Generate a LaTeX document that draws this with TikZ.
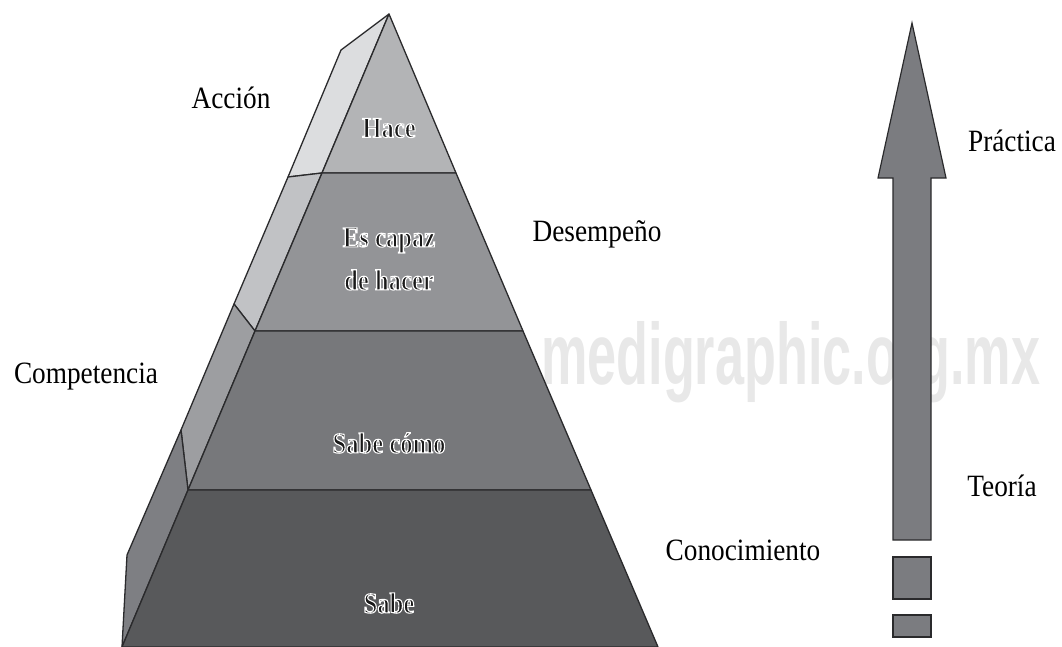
\documentclass[tikz,border=0pt]{standalone}
\usepackage{fontspec}
\setmainfont{Liberation Serif}
\newfontfamily\lblfont[FakeStretch=0.88]{Liberation Serif}
\newfontfamily\inbfont[FakeStretch=0.85]{Liberation Serif Bold}
\newfontfamily\wmfont[FakeStretch=0.6]{Liberation Sans Bold}
\definecolor{lineC}{HTML}{2A2A2C}
\definecolor{fHace}{HTML}{B3B4B6}
\definecolor{fCapaz}{HTML}{939497}
\definecolor{fComo}{HTML}{77787B}
\definecolor{fSabe}{HTML}{58595B}
\definecolor{sHace}{HTML}{DCDDDF}
\definecolor{sCapaz}{HTML}{C1C2C5}
\definecolor{sComo}{HTML}{9D9EA1}
\definecolor{sSabe}{HTML}{7E7F83}
\definecolor{arrC}{HTML}{7B7C80}
\definecolor{wmC}{HTML}{E8E8E8}
\newcommand{\outlined}[1]{\special{pdf:literal 2 Tr 1.1 w 1 1 1 RG}#1\special{pdf:literal 0 Tr 0 G}}
\tikzset{
  face/.style={draw=lineC, line width=1.3pt, line join=round},
  outer/.style={font=\lblfont\fontsize{31}{34}\selectfont, text=black, inner sep=0pt},
  inner/.style={font=\inbfont\fontsize{29}{31}\selectfont, inner sep=0pt, align=center, text=black!90},
  arrowbox/.style={draw=lineC, line width=1.2pt, fill=arrC, line join=miter}
}
\begin{document}
\begin{tikzpicture}[x=1pt,y=-1pt]
\useasboundingbox (0,0) rectangle (1062,646);
% watermark
\node[font=\wmfont\fontsize{87}{90}\selectfont, text=wmC, anchor=base west, inner sep=0pt] (wm) at (541,384) {medigraphic.org.mx};
% points
\coordinate (A) at (389,14);
\coordinate (L1) at (322,173);
\coordinate (L2) at (255,331);
\coordinate (L3) at (188,490);
\coordinate (L4) at (122,647);
\coordinate (R1) at (456,173);
\coordinate (R2) at (523,331);
\coordinate (R3) at (591,490);
\coordinate (R4) at (658,647);
\coordinate (B0) at (341,50);
\coordinate (B1) at (288,177);
\coordinate (B2) at (234,304);
\coordinate (B3) at (181,430);
\coordinate (B4) at (127,555);
% side strips
\filldraw[face, fill=sHace] (A) -- (B0) -- (B1) -- (L1) -- cycle;
\filldraw[face, fill=sCapaz] (B1) -- (B2) -- (L2) -- (L1) -- cycle;
\filldraw[face, fill=sComo] (B2) -- (B3) -- (L3) -- (L2) -- cycle;
\filldraw[face, fill=sSabe] (B3) -- (B4) -- (L4) -- (L3) -- cycle;
% front layers
\filldraw[face, fill=fHace] (A) -- (L1) -- (R1) -- cycle;
\filldraw[face, fill=fCapaz] (L1) -- (L2) -- (R2) -- (R1) -- cycle;
\filldraw[face, fill=fComo] (L2) -- (L3) -- (R3) -- (R2) -- cycle;
\filldraw[face, fill=fSabe] (L3) -- (L4) -- (R4) -- (R3) -- cycle;
% inner labels
\node[inner] (tHace) at (389,128) {\outlined{Hace}};
\node[inner] (tCapaz) at (389,259) {\outlined{Es capaz}\\[12pt]\outlined{de hacer}};
\node[inner] (tComo) at (389,443) {\outlined{Sabe cómo}};
\node[inner] (tSabe) at (389,603) {\outlined{Sabe}};
% outer labels
\node[outer] (accion) at (231,98) {Acción};
\node[outer] (desemp) at (597,234) {Desempeño};
\node[outer] (compet) at (86,377) {Competencia};
\node[outer] (conoc) at (743,550) {Conocimiento};
\node[outer] (pract) at (1012,141) {Práctica};
\node[outer] (teoria) at (1002,486) {Teoría};
% arrow
\filldraw[arrowbox] (912,23) -- (946,178) -- (931,178) -- (931,540) -- (893,540) -- (893,178) -- (878,178) -- cycle;
\filldraw[arrowbox] (893,557) rectangle (931,599);
\filldraw[arrowbox] (893,615) rectangle (931,637);
\end{tikzpicture}
\end{document}
